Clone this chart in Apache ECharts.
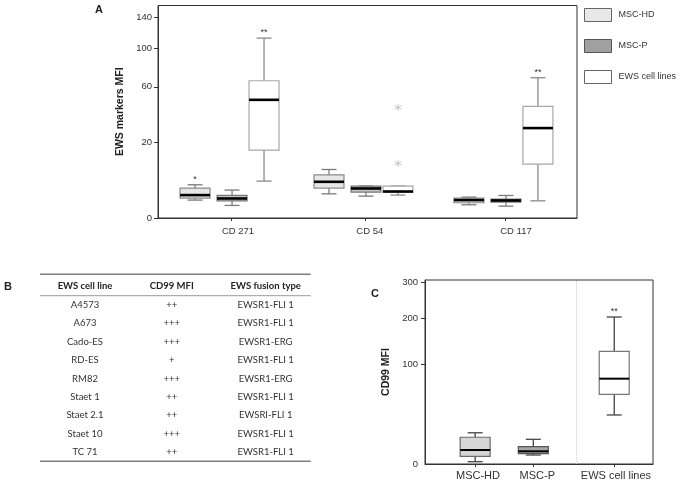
<!DOCTYPE html>
<html><head><meta charset="utf-8">
<script src="https://cdn.jsdelivr.net/npm/echarts@6/dist/echarts.min.js"></script>
<style>html,body{margin:0;padding:0;background:#fff}#c{width:683px;height:483px}</style>
</head><body><div id="c"></div>
<script>
// ---------- DATA ----------
const groups = ['MSC-HD', 'MSC-P', 'EWS cell lines'];
const markersA = ['CD 271', 'CD 54', 'CD 117'];
// box stats [min, q1, median, q3, max] per marker (MFI)
const mscHD_A = [[1.12, 1.38, 1.83, 3.12, 3.85], [2.04, 3.12, 4.57, 6.51, 8.21], [0.61, 0.81, 1.12, 1.38, 1.52]];
const mscP_A  = [[0.55, 1.03, 1.33, 1.77, 2.72], [1.67, 2.34, 3.04, 3.55, 3.55], [0.49, 0.88, 1.07, 1.25, 1.77]];
const ews_A   = [[4.75, 16.1, 48.7, 65.7, 112.9], [1.83, 2.27, 2.45, 3.55, 3.55], [1.03, 10.1, 28.2, 43.4, 68.6]];
const sigA = [['*', '', ''], ['', '', ''], ['**', '', '**']];
const ewsOutliersA = [[1, 42.6], [1, 10.4]]; // [marker index, MFI]
const ticksA = [0, 20, 60, 100, 140];

const statsC = [[1.90, 3.45, 5.85, 12.6, 15.6], [3.89, 4.36, 5.30, 7.35, 11.35], [30.6, 54.3, 76.7, 125.2, 202.8]];
const sigC = ['', '', '**'];
const ticksC = [0, 100, 200, 300];

const tableHeader = ['EWS cell line', 'CD99 MFI', 'EWS fusion type'];
const cellLines = ['A4573', 'A673', 'Cado-ES', 'RD-ES', 'RM82', 'Staet 1', 'Staet 2.1', 'Staet 10', 'TC 71'];
const cd99Level = ['++', '+++', '+++', '+', '+++', '++', '++', '+++', '++'];
const fusionType = ['EWSR1-FLI 1', 'EWSR1-FLI 1', 'EWSR1-ERG', 'EWSR1-FLI 1', 'EWSR1-ERG', 'EWSR1-FLI 1', 'EWSRI-FLI 1', 'EWSR1-FLI 1', 'EWSR1-FLI 1'];

// ---------- LAYOUT / STYLE ----------
const posA = [0.523, 1.482, 2.484];      // marker centres on x axis (0..3)
const labPosA = [0.573, 1.516, 2.563];
const offA = [-36, 1, 33];               // px offset per group
const posC = [0.88, 1.9, 3.32];          // (0..4)
const labPosC = [0.93, 1.97, 3.35];
const BOX_W = 30, CAP_W = 15;
const FONT = '"Liberation Sans", Arial, sans-serif';
const stylesA = [
  {fill: '#e6e6e6', stroke: '#8a8a8a', whisker: '#7a7a7a'},
  {fill: '#c4c4c4', stroke: '#777', whisker: '#7a7a7a'},
  {fill: '#ffffff', stroke: '#a8a8a8', whisker: '#8a8a8a'}
];
const stylesC = [
  {fill: '#d6d6d6', stroke: '#6a6a6a', whisker: '#444'},
  {fill: '#a6a6a6', stroke: '#555', whisker: '#444'},
  {fill: '#ffffff', stroke: '#777', whisker: '#444'}
];
const legendStyle = [
  {color: '#e8e8e8', borderColor: '#666', borderWidth: 1},
  {color: '#a0a0a0', borderColor: '#555', borderWidth: 1},
  {color: '#ffffff', borderColor: '#666', borderWidth: 1}
];
const sq = v => Math.sqrt(v);

function boxRenderer(posArr, offset, st, sigArr, medW) {
  return function (params, api) {
    const i = api.value(0);
    const x = posArr[i];
    const p = [1, 2, 3, 4, 5].map(k => api.coord([x, api.value(k)]));
    const cx = p[0][0] + offset;
    const yMin = p[0][1], yQ1 = p[1][1], yMed = p[2][1], yQ3 = p[3][1], yMax = p[4][1];
    const children = [
      {type: 'line', shape: {x1: cx, y1: yMin, x2: cx, y2: yMax}, style: {stroke: st.whisker, lineWidth: 1.3}},
      {type: 'line', shape: {x1: cx - CAP_W / 2, y1: yMin, x2: cx + CAP_W / 2, y2: yMin}, style: {stroke: st.whisker, lineWidth: 1.3}},
      {type: 'line', shape: {x1: cx - CAP_W / 2, y1: yMax, x2: cx + CAP_W / 2, y2: yMax}, style: {stroke: st.whisker, lineWidth: 1.3}},
      {type: 'rect', shape: {x: cx - BOX_W / 2, y: yQ3, width: BOX_W, height: Math.max(yQ1 - yQ3, 0.5)}, style: {fill: st.fill, stroke: st.stroke, lineWidth: 1.2}},
      {type: 'line', shape: {x1: cx - BOX_W / 2, y1: yMed, x2: cx + BOX_W / 2, y2: yMed}, style: {stroke: '#000', lineWidth: medW}}
    ];
    const s = sigArr[i];
    if (s) children.push({type: 'text', x: cx, y: yMax - 1, style: {text: s, align: 'center', verticalAlign: 'bottom', fill: '#333', font: '9px ' + FONT}});
    return {type: 'group', children: children};
  };
}

const series = [];
const statsA = [mscHD_A, mscP_A, ews_A];
groups.forEach((g, gi) => {
  series.push({
    type: 'custom', name: g, xAxisIndex: 0, yAxisIndex: 0,
    itemStyle: legendStyle[gi],
    data: markersA.map((m, i) => [i].concat(statsA[gi][i].map(sq))),
    encode: {x: 0, y: [1, 2, 3, 4, 5]},
    renderItem: boxRenderer(posA, offA[gi], stylesA[gi], sigA[gi], 2.6),
    silent: true
  });
  series.push({
    type: 'custom', name: g, xAxisIndex: 1, yAxisIndex: 1,
    itemStyle: legendStyle[gi],
    data: [[gi].concat(statsC[gi].map(sq))],
    encode: {x: 0, y: [1, 2, 3, 4, 5]},
    renderItem: boxRenderer(posC, 0, stylesC[gi], [sigC[0], sigC[1], sigC[2]], 2),
    silent: true,
    markLine: gi === 2 ? {silent: true, symbol: 'none', label: {show: false},
      lineStyle: {color: '#d0d0d0', type: 'dotted', width: 1}, data: [{xAxis: 2.65}]} : undefined
  });
});
series.push({
  type: 'scatter', name: 'EWS cell lines', xAxisIndex: 0, yAxisIndex: 0,
  data: ewsOutliersA.map(o => [posA[o[0]], sq(o[1])]),
  symbol: 'path://M5,0L5,10M0.7,2.5L9.3,7.5M0.7,7.5L9.3,2.5',
  symbolSize: 7, symbolOffset: [offA[2], 0],
  itemStyle: {color: 'rgba(0,0,0,0)', borderColor: '#b8b8b8', borderWidth: 1},
  silent: true
});

// table graphics
const colX = [85, 171.7, 265.7];
const rowY0 = 304.7, rowH = 18.45;
const tfont = '9.5px Lato, "Open Sans", sans-serif';
const graphics = [
  {type: 'text', x: 95, y: 4, style: {text: 'A', font: 'bold 11px ' + FONT, fill: '#222'}},
  {type: 'text', x: 4, y: 281, style: {text: 'B', font: 'bold 11px ' + FONT, fill: '#222'}},
  {type: 'text', x: 371, y: 288, style: {text: 'C', font: 'bold 11px ' + FONT, fill: '#222'}},
  {type: 'line', shape: {x1: 40, y1: 274.3, x2: 310.7, y2: 274.3}, style: {stroke: '#808080', lineWidth: 1.5}},
  {type: 'line', shape: {x1: 40, y1: 295.7, x2: 310.7, y2: 295.7}, style: {stroke: '#9a9a9a', lineWidth: 1}},
  {type: 'line', shape: {x1: 40, y1: 461.3, x2: 310.7, y2: 461.3}, style: {stroke: '#808080', lineWidth: 1.5}}
];
tableHeader.forEach((h, j) => graphics.push({type: 'text', x: colX[j], y: 285.7,
  style: {text: h, align: 'center', verticalAlign: 'middle', font: 'bold ' + tfont, fill: '#222'}}));
cellLines.forEach((c, i) => {
  [c, cd99Level[i], fusionType[i]].forEach((t, j) => graphics.push({type: 'text', x: colX[j], y: rowY0 + i * rowH,
    style: {text: t, align: 'center', verticalAlign: 'middle', font: tfont, fill: '#333'}}));
});

const axisText = {color: '#333', fontFamily: FONT};
const option = {
  animation: false,
  backgroundColor: '#fff',
  grid: [
    {left: 158, top: 5.5, width: 419, height: 212.5, show: true, borderColor: '#333', borderWidth: 1, containLabel: false},
    {left: 425, top: 280, width: 228, height: 184, show: true, borderColor: '#333', borderWidth: 1, containLabel: false}
  ],
  legend: {
    orient: 'vertical', left: 584, top: 8, padding: 0, itemWidth: 27, itemHeight: 13, itemGap: 17,
    icon: 'rect', textStyle: {fontSize: 9, color: '#333', fontFamily: FONT, padding: [0, 0, 0, 2]},
    data: groups.map((g, i) => ({name: g, icon: 'rect', itemStyle: legendStyle[i]})),
    selectedMode: false
  },
  xAxis: [
    {type: 'value', gridIndex: 0, min: 0, max: 3,
      axisLine: {show: true, lineStyle: {color: '#333'}}, splitLine: {show: false},
      axisTick: {show: true, customValues: posA, length: 3, lineStyle: {color: '#333'}},
      axisLabel: {customValues: labPosA, margin: 8, fontSize: 9.5, ...axisText,
        formatter: v => markersA[labPosA.reduce((b, p, i) => Math.abs(p - v) < Math.abs(labPosA[b] - v) ? i : b, 0)]}},
    {type: 'value', gridIndex: 1, min: 0, max: 4,
      axisLine: {show: true, lineStyle: {color: '#333'}}, splitLine: {show: false},
      axisTick: {show: true, customValues: posC, length: 3, lineStyle: {color: '#333'}},
      axisLabel: {customValues: labPosC, margin: 6, fontSize: 11, ...axisText,
        formatter: v => groups[labPosC.reduce((b, p, i) => Math.abs(p - v) < Math.abs(labPosC[b] - v) ? i : b, 0)]}}
  ],
  yAxis: [
    {type: 'value', gridIndex: 0, min: 0, max: 12.55,
      name: 'EWS markers MFI', nameLocation: 'middle', nameGap: 31,
      nameTextStyle: {fontSize: 10.5, fontWeight: 'bold', color: '#222', fontFamily: FONT},
      axisLine: {show: true, lineStyle: {color: '#333'}}, splitLine: {show: false},
      axisTick: {show: true, customValues: ticksA.map(sq), length: 4, lineStyle: {color: '#333'}},
      axisLabel: {customValues: ticksA.map(sq), margin: 6, fontSize: 9.5, ...axisText,
        formatter: v => String(Math.round(v * v))}},
    {type: 'value', gridIndex: 1, min: 1.173, max: 17.53,
      name: 'CD99 MFI', nameLocation: 'middle', nameGap: 33,
      nameTextStyle: {fontSize: 10.5, fontWeight: 'bold', color: '#222', fontFamily: FONT},
      axisLine: {show: true, lineStyle: {color: '#333'}}, splitLine: {show: false},
      axisTick: {show: true, customValues: ticksC.slice(1).map(sq), length: 4, lineStyle: {color: '#333'}},
      axisLabel: {customValues: [1.173].concat(ticksC.slice(1).map(sq)), margin: 7, fontSize: 9.5, ...axisText,
        formatter: v => v < 2 ? '0' : String(Math.round(v * v / 10) * 10)}}
  ],
  graphic: graphics,
  series: series
};
echarts.init(document.getElementById('c'), null, {renderer: 'canvas'}).setOption(option);
</script></body></html>
